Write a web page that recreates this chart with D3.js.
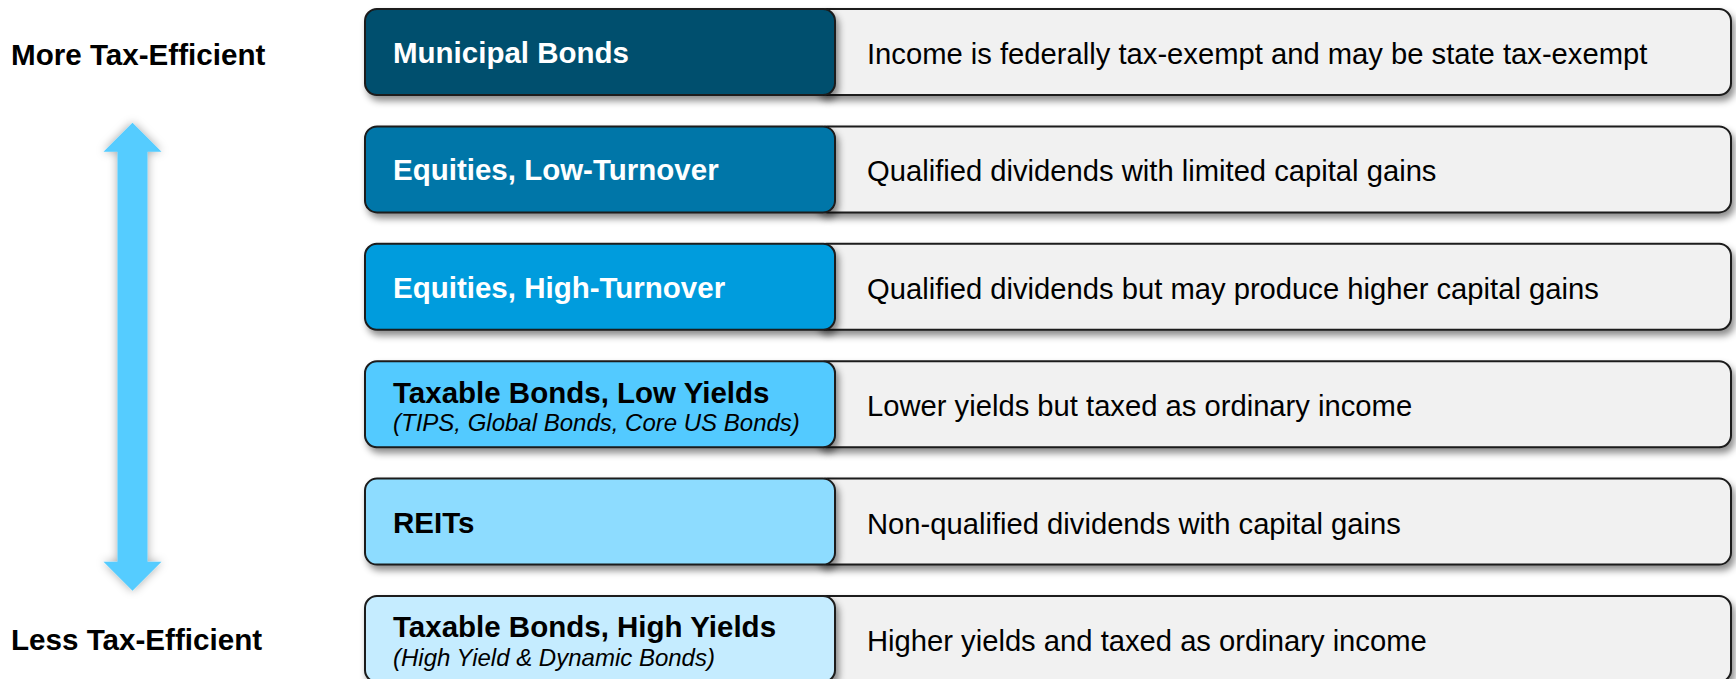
<!DOCTYPE html>
<html>
<head>
<meta charset="utf-8">
<script src="https://cdn.jsdelivr.net/npm/d3@7"></script>
<style>
  html, body { margin: 0; padding: 0; background: #ffffff; }
  svg { display: block; }
  text { font-family: "Liberation Sans", Arial, sans-serif; }
</style>
</head>
<body>
<svg id="chart" width="1736" height="679"></svg>
<script>
// ---- data ----
const categories = [
  "Municipal Bonds",
  "Equities, Low-Turnover",
  "Equities, High-Turnover",
  "Taxable Bonds, Low Yields",
  "REITs",
  "Taxable Bonds, High Yields"
];
const subtitles = [
  "",
  "",
  "",
  "(TIPS, Global Bonds, Core US Bonds)",
  "",
  "(High Yield & Dynamic Bonds)"
];
const descriptions = [
  "Income is federally tax-exempt and may be state tax-exempt",
  "Qualified dividends with limited capital gains",
  "Qualified dividends but may produce higher capital gains",
  "Lower yields but taxed as ordinary income",
  "Non-qualified dividends with capital gains",
  "Higher yields and taxed as ordinary income"
];
const scaleLabels = ["More Tax-Efficient", "Less Tax-Efficient"];

// ---- styles ----
const fillPalette = ["#004f6e", "#0076a8", "#009cdd", "#52caff", "#8ddcff", "#c5ecff"];
const textPalette = ["#ffffff", "#ffffff", "#ffffff", "#000000", "#000000", "#000000"];

const svg = d3.select("#chart");
const defs = svg.append("defs");
const f = defs.append("filter").attr("id", "shadow")
  .attr("x", "-10%").attr("y", "-30%").attr("width", "120%").attr("height", "170%");
f.append("feDropShadow").attr("dx", 3).attr("dy", 5).attr("stdDeviation", 3.5)
  .attr("flood-color", "#000").attr("flood-opacity", 0.45);
const f2 = defs.append("filter").attr("id", "ashadow")
  .attr("x", "-50%").attr("y", "-10%").attr("width", "200%").attr("height", "120%");
f2.append("feDropShadow").attr("dx", 0).attr("dy", 0).attr("stdDeviation", 5)
  .attr("flood-color", "#000").attr("flood-opacity", 0.35);

const y = d3.scaleBand().domain(categories).range([9, 682]).paddingInner(0.2675).paddingOuter(0);
const fill = d3.scaleOrdinal().domain(categories).range(fillPalette);
const tcol = d3.scaleOrdinal().domain(categories).range(textPalette);
const x = d3.scaleOrdinal().domain(["label", "left", "split", "right"]).range([11, 365, 835, 1731]);

const rows = svg.selectAll("g.row").data(categories).join("g").attr("class", "row")
  .attr("transform", d => `translate(0,${y(d)})`);
const bh = y.bandwidth();

// right description boxes
rows.append("rect")
  .attr("x", x("split") - 20).attr("y", 0)
  .attr("width", x("right") - x("split") + 20).attr("height", bh)
  .attr("rx", 12).attr("ry", 12)
  .attr("fill", "#f1f1f1").attr("stroke", "#1a1a1a").attr("stroke-width", 2)
  .attr("filter", "url(#shadow)");

// left category boxes
rows.append("rect")
  .attr("x", x("left")).attr("y", 0)
  .attr("width", x("split") - x("left")).attr("height", bh)
  .attr("rx", 12).attr("ry", 12)
  .attr("fill", d => fill(d)).attr("stroke", "#1a1a1a").attr("stroke-width", 2)
  .attr("filter", "url(#shadow)");

// category titles
rows.append("text")
  .attr("x", x("left") + 28)
  .attr("y", (d, i) => subtitles[i] ? bh / 2 - 1.5 : bh / 2 + 11)
  .attr("fill", d => tcol(d))
  .attr("font-size", 29.5).attr("font-weight", "bold")
  .text(d => d);

rows.append("text")
  .attr("x", x("left") + 28)
  .attr("y", bh / 2 + 27)
  .attr("fill", d => tcol(d))
  .attr("font-size", 24).attr("font-style", "italic")
  .text((d, i) => subtitles[i]);

// descriptions
rows.append("text")
  .attr("x", x("split") + 32)
  .attr("y", bh / 2 + 12)
  .attr("fill", "#000")
  .attr("font-size", 29.2)
  .text((d, i) => descriptions[i]);

// scale labels
svg.selectAll("text.scale").data(scaleLabels).join("text").attr("class", "scale")
  .attr("x", x("label"))
  .attr("y", (d, i) => i === 0 ? 65 : 650)
  .attr("font-size", 29.6).attr("font-weight", "bold").attr("fill", "#000")
  .text(d => d);

// double arrow
const ax = 132.5, arrowTop = 122.7, arrowBot = 590.7, headH = 29, headW = 29, shaftW = 15;
const arrowPath = d3.path();
arrowPath.moveTo(ax, arrowTop);
arrowPath.lineTo(ax + headW, arrowTop + headH);
arrowPath.lineTo(ax + shaftW, arrowTop + headH);
arrowPath.lineTo(ax + shaftW, arrowBot - headH);
arrowPath.lineTo(ax + headW, arrowBot - headH);
arrowPath.lineTo(ax, arrowBot);
arrowPath.lineTo(ax - headW, arrowBot - headH);
arrowPath.lineTo(ax - shaftW, arrowBot - headH);
arrowPath.lineTo(ax - shaftW, arrowTop + headH);
arrowPath.lineTo(ax - headW, arrowTop + headH);
arrowPath.closePath();
svg.append("path").attr("d", arrowPath.toString())
  .attr("fill", "#55ccff").attr("filter", "url(#ashadow)");
</script>
</body>
</html>
